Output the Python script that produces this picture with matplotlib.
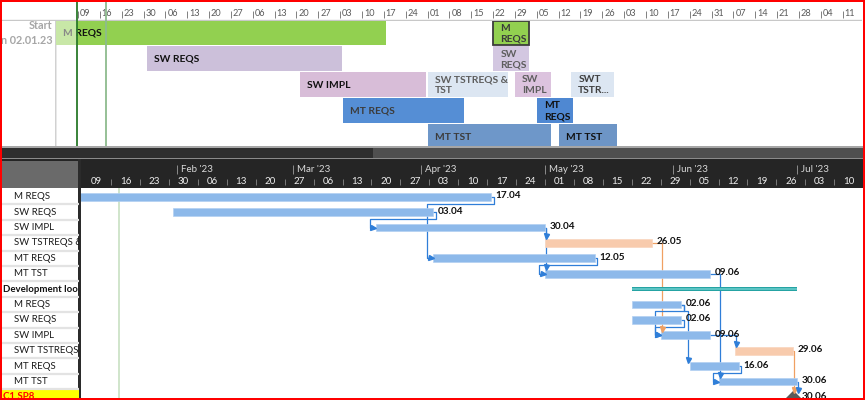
import matplotlib
matplotlib.use("Agg")
import matplotlib.pyplot as plt
import matplotlib.dates as mdates
from matplotlib.patches import Rectangle
import numpy as np

plt.rcParams['font.family'] = ['Lato', 'DejaVu Sans']

W, H = 866, 400

# ---------------- data ----------------
task_names = ["M REQS", "SW REQS", "SW IMPL", "SW TSTREQS &", "MT REQS", "MT TST",
              "Development loo", "M REQS", "SW REQS", "SW IMPL", "SWT TSTREQS &",
              "MT REQS", "MT TST", "C1 SP8"]
task_start = ["2023-01-02", "2023-01-31", "2023-03-21", "2023-05-01", "2023-04-04", "2023-05-01",
              "2023-05-22", "2023-05-22", "2023-05-22", "2023-05-29", "2023-06-16",
              "2023-06-05", "2023-06-12", "2023-06-30"]
task_finish = ["2023-04-17", "2023-04-03", "2023-04-30", "2023-05-26", "2023-05-12", "2023-06-09",
               "2023-06-30", "2023-06-02", "2023-06-02", "2023-06-09", "2023-06-29",
               "2023-06-16", "2023-06-30", "2023-06-30"]
task_kind = ["task", "task", "task", "crit", "task", "task", "summary",
             "task", "task", "task", "crit", "task", "task", "milestone"]

links = [(0, 4, "hook"), (1, 2, "hook"), (2, 3, "drop"), (2, 5, "drop"), (4, 5, "hook"),
         (3, 9, "drop"), (5, 12, "drop"), (7, 9, "hook"), (8, 9, "hook"), (7, 11, "hookdrop"),
         (9, 10, "drop"), (10, 13, "drop"), (11, 12, "hook"), (12, 13, "drop")]

tl_labels = ["M REQS", "SW REQS", "SW IMPL", "SW TSTREQS &\nTST", "MT REQS", "MT TST",
             "M\nREQS", "SW\nREQS", "SW\nIMPL", "SWT\nTSTR...", "MT\nREQS", "MT TST"]
tl_row = [0, 1, 2, 2, 3, 4, 0, 1, 2, 2, 3, 4]
tl_start = ["2023-01-02", "2023-01-31", "2023-03-21", "2023-05-01", "2023-04-04", "2023-05-01",
            "2023-05-22", "2023-05-22", "2023-05-29", "2023-06-16", "2023-06-05", "2023-06-12"]
tl_finish = ["2023-04-17", "2023-04-03", "2023-04-30", "2023-05-26", "2023-05-12", "2023-06-09",
             "2023-06-02", "2023-06-02", "2023-06-09", "2023-06-29", "2023-06-16", "2023-06-30"]
tl_color = ["#92D050", "#CCC0DA", "#D8BDD8", "#DCE6F2", "#558ED5", "#6E97C9",
            "#92D050", "#D3C7E1", "#DCC3DE", "#DCE6F2", "#4F88D2", "#6D95C6"]
tl_text = ["#111111", "#111111", "#111111", "#5E5E5E", "#3C3C3C", "#3C3C3C",
           "#3A3A3A", "#5E5E5E", "#5E5E5E", "#404040", "#111111", "#111111"]
tl_border = [False] * 6 + [True] + [False] * 5

project_start = "2023-01-02"
status_date = "2023-01-18"
start_caption = ["Start", "n 02.01.23"]
month_starts = ["2023-02-01", "2023-03-01", "2023-04-01", "2023-05-01", "2023-06-01", "2023-07-01"]
month_labels = ["Feb '23", "Mar '23", "Apr '23", "May '23", "Jun '23", "Jul '23"]

# ---------------- helpers ----------------
d2n = mdates.datestr2num
fig = plt.figure(figsize=(W / 100, H / 100), dpi=100)
fig.patch.set_facecolor("white")


def px_axes(x0, y0, x1, y1, **kw):
    ax = fig.add_axes([x0 / W, 1 - y1 / H, (x1 - x0) / W, (y1 - y0) / H], **kw)
    ax.set_axis_off()
    return ax


low_px0, low_px1 = 81, 862
low_ref = d2n("2023-01-09")
low_ppd = 4.132
low_ref_px = 82.2
low_xlim = (low_ref + (low_px0 - low_ref_px) / low_ppd, low_ref + (low_px1 - low_ref_px) / low_ppd)

top_px0, top_px1 = 2, 862
top_ref = d2n(project_start)
top_ppd = 3.121
top_ref_px = 56.15
top_xlim = (top_ref + (top_px0 - top_ref_px) / top_ppd, top_ref + (top_px1 - top_ref_px) / top_ppd)

# ---------------- chrome (background) ----------------
bg = px_axes(0, 0, W, H)
bg.set_xlim(0, W)
bg.set_ylim(H, 0)
bg.add_patch(Rectangle((0, 146.3), W, 1.2, color="#A6A6A6", lw=0))
bg.add_patch(Rectangle((0, 147.5), 373, 10, color="#2E2E2E", lw=0))
bg.add_patch(Rectangle((373, 147.5), W - 373, 10, color="#4F4F4F", lw=0))
bg.add_patch(Rectangle((0, 157.5), W, 1.0, color="#8A8A8A", lw=0))
bg.add_patch(Rectangle((0, 158.5), W, 30, color="#252525", lw=0))
bg.add_patch(Rectangle((2, 161), 76.5, 27.3, color="#6A6A6A", lw=0))
bg.add_patch(Rectangle((0, 188.3), W, H - 188.3, color="white", lw=0))
bg.text(52.5, 25.5, start_caption[0], fontsize=7.8, fontweight="bold", color="#A6A6A6",
        ha="right", va="center")
bg.text(52.5, 40.5, start_caption[1], fontsize=7.8, fontweight="bold", color="#A6A6A6",
        ha="right", va="center")

# ---------------- top timeline ticks strip ----------------
ax_s = px_axes(top_px0, 0, top_px1, 20.5)
ax_s.set_xlim(*top_xlim)
ax_s.set_ylim(20.5, 0)
mondays_top = np.arange(d2n("2023-01-09"), d2n("2023-09-11") + 1, 7)
ax_s.vlines(mondays_top, 10.5, 18, color="#808080", lw=0.7)
for m in mondays_top:
    ax_s.text(m + 0.6, 14.0, mdates.num2date(m).strftime("%d"), fontsize=6.6,
              color="#595959", va="center", ha="left")
ax_s.axhline(20, color="#C8C8C8", lw=1.0)

# ---------------- top timeline panel ----------------
ax_t = px_axes(top_px0, 20.5, top_px1, 146.3)
ax_t.set_xlim(*top_xlim)
ax_t.set_ylim(4.37, -0.48)
ax_t.axvline(top_ref, color="#D0D0D0", lw=1.4, zorder=1)
for lab, r, s, f, c, tc, b in zip(tl_labels, tl_row, tl_start, tl_finish, tl_color, tl_text, tl_border):
    s_n, f_n = d2n(s), d2n(f) + 1 - 0.35
    ax_t.barh(r, f_n - s_n, left=s_n, height=0.96, color=c,
              edgecolor="#3C3C3C" if b else "none", linewidth=1.3 if b else 0, zorder=2)
    ax_t.text(s_n + 2.3, r + 0.02, lab, fontsize=7.4, fontweight="bold", color=tc,
              va="center", ha="left", linespacing=1.25, zorder=3)

view_start = low_xlim[0]
ax_t.add_patch(Rectangle((top_ref, -1), view_start - top_ref, 7, facecolor="white",
                         alpha=0.5, lw=0, zorder=4))
for a in (ax_t, ax_s):
    a.axvline(view_start, color="#2A7A2A", lw=1.3, zorder=5)
    a.axvline(d2n(status_date), color="#8DBB8D", lw=1.3, zorder=5)

# ---------------- lower gantt header ----------------
ax_h = px_axes(low_px0, 158.5, low_px1, 188.3)
ax_h.set_xlim(*low_xlim)
ax_h.set_ylim(29.8, 0)
for ms, ml in zip(month_starts, month_labels):
    m = d2n(ms)
    ax_h.vlines(m, 6, 15.5, color="#8C8C8C", lw=0.7)
    ax_h.text(m + 1.0, 11, ml, fontsize=7, color="#D9D9D9", va="center", ha="left")
mondays_low = np.arange(d2n("2023-01-09"), d2n("2023-07-10") + 1, 7)
ax_h.vlines(mondays_low[1:], 20, 26.5, color="#7A7A7A", lw=0.7)
for m in mondays_low:
    ax_h.text(m + 3.5, 22.6, mdates.num2date(m).strftime("%d"), fontsize=7,
              color="#EDEDED", va="center", ha="center")

# ---------------- table ----------------
n = len(task_names)
row_top, row_pitch = 196.7, 15.4
ylim_low = (13 + (398 - row_top - 13 * row_pitch) / row_pitch, -(row_top - 188.3) / row_pitch)

ax_tab = px_axes(2, 188.3, 78.5, 398)
ax_tab.set_xlim(0, 1)
ax_tab.set_ylim(*ylim_low)
ax_tab.axhspan(12.5, 14, color="#FFFF00", lw=0)
ax_tab.hlines(np.arange(n - 1) + 0.5, 0, 1, color="#E3E3E3", lw=1.6)
for i, name in enumerate(task_names):
    if task_kind[i] == "summary":
        ax_tab.text(0.015, i, name, fontsize=6.9, fontweight="bold", color="#111111",
                    va="center", ha="left", clip_on=True)
    elif task_kind[i] == "milestone":
        ax_tab.text(0.015, i, name, fontsize=6.9, fontweight="bold", color="#FF0000",
                    va="center", ha="left", clip_on=True)
    else:
        ax_tab.text(0.16, i, name, fontsize=6.9, color="#1A1A1A", va="center", ha="left",
                    clip_on=True)

bg.add_patch(Rectangle((78.3, 158.5), 2.6, H - 158.5, color="#2B2B2B", lw=0))

# ---------------- lower gantt ----------------
ax_g = px_axes(low_px0, 188.3, low_px1, 398)
ax_g.set_xlim(*low_xlim)
ax_g.set_ylim(*ylim_low)
ax_g.axvline(d2n(status_date), color="#C8E0C2", lw=1.2, zorder=1)

blue, peach, teal = "#8DB9EA", "#F8CBAD", "#25A3A3"
link_blue, link_orange = "#2F7ED8", "#F0A062"
s_num = [d2n(s) for s in task_start]
f_num = [d2n(f) + 1 for f in task_finish]

for i, k in enumerate(task_kind):
    s, f = s_num[i], f_num[i]
    if k == "summary":
        ax_g.barh(i, f - s, left=s, height=0.27, color=teal, zorder=3)
        ax_g.barh(i, f - s, left=s, height=0.08, color="#5CC4C4", zorder=3)
    elif k == "milestone":
        ax_g.plot(s, i + 0.1, marker="D", ms=7, color="#5A5A5A", zorder=4, clip_on=True)
        ax_g.text(s + 2.2, i, mdates.num2date(f - 1).strftime("%d.%m"), fontsize=7.2,
                  fontweight="bold", color="#111111", va="center", ha="left", zorder=5,
                  clip_on=True)
    else:
        ax_g.barh(i, f - s, left=s, height=0.5, color=blue if k == "task" else peach,
                  edgecolor="#B3D0F2" if k == "task" else "#F9D5BE", lw=0.5, zorder=3)
        ax_g.text(f + 1.05, i - 0.06, mdates.num2date(f - 1).strftime("%d.%m"), fontsize=7.2,
                  fontweight="bold", color="#111111", va="center", ha="left", zorder=5)

for a, b, kind in links:
    col = link_orange if task_kind[a] == "crit" else link_blue
    ea, sb = f_num[a], s_num[b]
    lw = 0.9
    if kind == "hook":
        xl = sb - 1.45
        xs = [ea, ea + 0.55, ea + 0.55, xl, xl, sb - 0.3]
        ys = [a, a, a + 0.45, a + 0.45, b, b]
        ax_g.plot(xs, ys, color=col, lw=lw, zorder=2, solid_joinstyle="round")
        ax_g.plot(sb - 0.55, b, marker=">", ms=3.6, color=col, zorder=4, lw=0)
    elif kind == "drop":
        xd = max(ea, sb) + 0.25
        ax_g.plot([ea, xd, xd], [a, a, b - 0.38], color=col, lw=lw, zorder=2)
        ax_g.plot(xd, b - 0.42, marker="v", ms=3.6, color=col, zorder=4, lw=0)
    else:  # hook then drop
        xd = max(ea, sb) - 0.4
        xs = [ea, ea + 0.55, ea + 0.55, xd, xd]
        ys = [a, a, a + 0.45, a + 0.45, b - 0.38]
        ax_g.plot(xs, ys, color=col, lw=lw, zorder=2)
        ax_g.plot(xd, b - 0.42, marker="v", ms=3.6, color=col, zorder=4, lw=0)

# ---------------- red frame ----------------
frame = px_axes(0, 0, W, H)
frame.set_xlim(0, W)
frame.set_ylim(H, 0)
frame.add_patch(Rectangle((0, 0), 2, H, color="#FF0000", lw=0))
frame.add_patch(Rectangle((0, 0), W, 1.8, color="#FF0000", lw=0))
frame.add_patch(Rectangle((862.5, 0), 2.6, H, color="#FF0000", lw=0))
frame.add_patch(Rectangle((865.1, 0), 0.9, H, color="white", lw=0))
frame.add_patch(Rectangle((0, 397.6), 865.1, 2.4, color="#FF0000", lw=0))

fig.savefig("out.png", dpi=100)
